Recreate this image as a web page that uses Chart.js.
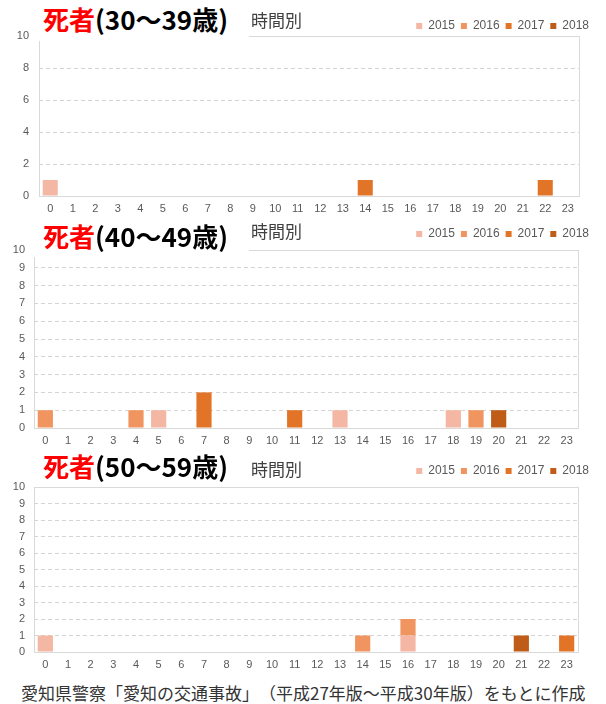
<!DOCTYPE html>
<html lang="ja">
<head>
<meta charset="utf-8">
<script src="https://cdn.jsdelivr.net/npm/chart.js@4.4.1/dist/chart.umd.min.js"></script>
<style>
  html, body { margin: 0; padding: 0; background: #fff; }
  body { width: 606px; height: 704px; position: relative; overflow: hidden; font-family: "Noto Sans CJK JP", sans-serif; }
  .panel { position: absolute; left: 0; width: 606px; }
  .panel canvas { display: block; }
  .cover { position: absolute; background: #fff; }
  .title { position: absolute; font-weight: bold; font-size: 26px; line-height: 1; white-space: nowrap; color: #000; }
  .title .red { color: #f00; }
  .sub { position: absolute; font-size: 17px; line-height: 1; color: #404040; white-space: nowrap; }
  .source { position: absolute; left: 21px; top: 684px; font-size: 17px; line-height: 1; color: #333; white-space: nowrap; }
</style>
</head>
<body>

<div class="panel" style="top:0;height:218px"><canvas id="c30"></canvas></div>
<div class="panel" style="top:218px;height:230px"><canvas id="c40"></canvas></div>
<div class="panel" style="top:448px;height:228px"><canvas id="c50"></canvas></div>

<div class="cover" style="left:33px;top:0;width:216px;height:41px"></div>
<div class="cover" style="left:30px;top:218px;width:219px;height:39px"></div>

<div class="title" style="left:43px;top:6px"><span class="red">死者</span>(30～39歳)</div>
<div class="title" style="left:43px;top:223px"><span class="red">死者</span>(40～49歳)</div>
<div class="title" style="left:43px;top:453px"><span class="red">死者</span>(50～59歳)</div>

<div class="sub" style="left:251px;top:11px">時間別</div>
<div class="sub" style="left:251px;top:222px">時間別</div>
<div class="sub" style="left:251px;top:460px">時間別</div>

<div class="source">愛知県警察「愛知の交通事故」　（平成27年版～平成30年版）をもとに作成</div>

<script>
const hours = ['0','1','2','3','4','5','6','7','8','9','10','11','12','13','14','15','16','17','18','19','20','21','22','23'];
const years = ['2015', '2016', '2017', '2018'];
const yearColors = ['#f4b7a3', '#f0955f', '#e27427', '#bf5c17'];

// deaths per hour, age 30-39
const age30_2015 = [1,0,0,0,0,0,0,0,0,0,0,0,0,0,0,0,0,0,0,0,0,0,0,0];
const age30_2016 = [0,0,0,0,0,0,0,0,0,0,0,0,0,0,0,0,0,0,0,0,0,0,0,0];
const age30_2017 = [0,0,0,0,0,0,0,0,0,0,0,0,0,0,1,0,0,0,0,0,0,0,1,0];
const age30_2018 = [0,0,0,0,0,0,0,0,0,0,0,0,0,0,0,0,0,0,0,0,0,0,0,0];

// age 40-49
const age40_2015 = [0,0,0,0,0,1,0,0,0,0,0,0,0,1,0,0,0,0,1,0,0,0,0,0];
const age40_2016 = [1,0,0,0,1,0,0,0,0,0,0,0,0,0,0,0,0,0,0,1,0,0,0,0];
const age40_2017 = [0,0,0,0,0,0,0,2,0,0,0,1,0,0,0,0,0,0,0,0,0,0,0,0];
const age40_2018 = [0,0,0,0,0,0,0,0,0,0,0,0,0,0,0,0,0,0,0,0,1,0,0,0];

// age 50-59
const age50_2015 = [1,0,0,0,0,0,0,0,0,0,0,0,0,0,0,0,1,0,0,0,0,0,0,0];
const age50_2016 = [0,0,0,0,0,0,0,0,0,0,0,0,0,0,1,0,1,0,0,0,0,0,0,0];
const age50_2017 = [0,0,0,0,0,0,0,0,0,0,0,0,0,0,0,0,0,0,0,0,0,0,0,1];
const age50_2018 = [0,0,0,0,0,0,0,0,0,0,0,0,0,0,0,0,0,0,0,0,0,1,0,0];

const tickFont = { family: '"Liberation Sans", Arial, sans-serif', size: 11 };
const tickColor = '#595959';

// light solid border round the plot area
const plotFrame = {
  id: 'plotFrame',
  beforeDatasetsDraw(chart) {
    const { ctx, chartArea: a } = chart;
    ctx.save();
    ctx.strokeStyle = '#d9d9d9';
    ctx.lineWidth = 1;
    ctx.strokeRect(Math.round(a.left) + 0.5, Math.round(a.top) + 0.5,
      Math.round(a.right - a.left), Math.round(a.bottom - a.top));
    ctx.restore();
  }
};

function makeChart(id, series, step, g) {
  return new Chart(document.getElementById(id), {
    type: 'bar',
    data: {
      labels: hours,
      datasets: series.map((vals, i) => ({
        label: years[i],
        data: vals,
        backgroundColor: yearColors[i],
        borderWidth: 0,
        categoryPercentage: 0.67,
        barPercentage: 1
      }))
    },
    options: {
      responsive: true,
      maintainAspectRatio: false,
      animation: false,
      devicePixelRatio: 1,
      layout: { padding: { top: g.top, right: 11, left: 0, bottom: 0 } },
      plugins: {
        tooltip: { enabled: false },
        legend: {
          position: 'top',
          align: 'end',
          maxHeight: g.legendH,
          labels: {
            boxWidth: 6,
            boxHeight: 6,
            padding: 6,
            color: tickColor,
            font: { family: '"Liberation Sans", Arial, sans-serif', size: 12 }
          }
        }
      },
      scales: {
        x: {
          stacked: true,
          grid: { display: false, drawTicks: false },
          border: { display: false },
          ticks: { color: tickColor, font: tickFont, padding: 6, maxRotation: 0, autoSkip: false },
          afterFit(s) { s.height = g.xH; }
        },
        y: {
          stacked: true,
          min: 0,
          max: 10,
          grid: { color: '#d4d4d4', drawTicks: false },
          border: { display: false, dash: [4, 3] },
          ticks: { stepSize: step, color: tickColor, font: tickFont, padding: g.yPad },
          afterFit(s) { s.width = g.yW; }
        },
        pad: {
          position: 'right',
          grid: { display: false, drawTicks: false },
          border: { display: false },
          ticks: { display: false },
          afterFit(s) { s.width = g.rightW; }
        }
      }
    },
    plugins: [plotFrame]
  });
}

makeChart('c30', [age30_2015, age30_2016, age30_2017, age30_2018], 2,
  { top: 14, legendH: 22, xH: 22, yW: 39, yPad: 10, rightW: 16 });
makeChart('c40', [age40_2015, age40_2016, age40_2017, age40_2018], 1,
  { top: 4, legendH: 28, xH: 20, yW: 34, yPad: 9, rightW: 17 });
makeChart('c50', [age50_2015, age50_2016, age50_2017, age50_2018], 1,
  { top: 11, legendH: 28, xH: 24, yW: 34, yPad: 9, rightW: 17 });
</script>
</body>
</html>
